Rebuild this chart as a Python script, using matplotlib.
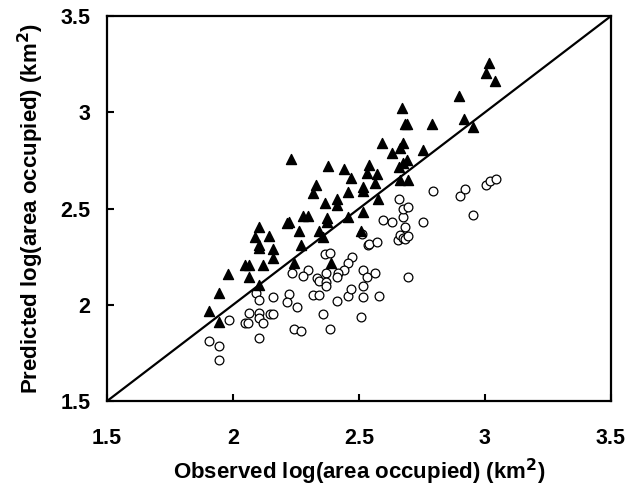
import numpy as np
import matplotlib
matplotlib.use("Agg")
import matplotlib.pyplot as plt

plt.rcParams['font.family'] = ['Liberation Sans', 'DejaVu Sans']
plt.rcParams['font.weight'] = 'bold'

# filled triangles
tri_obs = [1.905, 1.944, 1.944, 1.980, 2.048, 2.063, 2.119, 2.063, 2.103, 2.103,
           2.087, 2.143, 2.103, 2.103, 2.159, 2.159, 2.214, 2.222, 2.230, 2.242,
           2.262, 2.270, 2.278, 2.298, 2.317, 2.329, 2.341, 2.357, 2.365, 2.373,
           2.373, 2.377, 2.389, 2.413, 2.413, 2.440, 2.456, 2.456, 2.468, 2.508,
           2.516, 2.516, 2.516, 2.532, 2.540, 2.563, 2.571, 2.575, 2.591, 2.631,
           2.659, 2.663, 2.663, 2.671, 2.675, 2.675, 2.683, 2.690, 2.690, 2.694,
           2.754, 2.790, 2.897, 2.917, 2.952, 3.004, 3.016, 3.040]
tri_pred = [1.968, 2.061, 1.910, 2.160, 2.206, 2.206, 2.206, 2.144, 2.103, 2.404,
            2.352, 2.357, 2.310, 2.295, 2.290, 2.243, 2.425, 2.430, 2.757, 2.217,
            2.383, 2.310, 2.461, 2.461, 2.581, 2.622, 2.383, 2.352, 2.529, 2.451,
            2.430, 2.721, 2.217, 2.549, 2.518, 2.705, 2.586, 2.456, 2.658, 2.383,
            2.612, 2.591, 2.482, 2.684, 2.726, 2.632, 2.679, 2.549, 2.840, 2.788,
            2.716, 2.814, 2.648, 3.022, 2.840, 2.736, 2.939, 2.939, 2.752, 2.648,
            2.804, 2.939, 3.084, 2.965, 2.923, 3.204, 3.256, 3.162]

# open circles
circ_obs = [1.905, 1.944, 1.944, 1.984, 2.048, 2.060, 2.091, 2.103, 2.063, 2.103,
            2.147, 2.159, 2.103, 2.119, 2.103, 2.159, 2.222, 2.214, 2.254, 2.242,
            2.270, 2.317, 2.341, 2.357, 2.385, 2.413, 2.456, 2.468, 2.508, 2.516,
            2.516, 2.365, 2.385, 2.472, 2.456, 2.440, 2.417, 2.413, 2.369, 2.298,
            2.278, 2.234, 2.333, 2.341, 2.369, 2.369, 2.516, 2.532, 2.536, 2.512,
            2.563, 2.579, 2.694, 2.540, 2.571, 2.655, 2.663, 2.675, 2.683, 2.694,
            2.683, 2.595, 2.631, 2.754, 2.675, 2.675, 2.694, 2.659, 2.794, 2.901,
            2.921, 3.004, 3.020, 3.044, 2.952]
circ_pred = [1.812, 1.786, 1.713, 1.921, 1.905, 1.905, 2.061, 2.025, 1.957, 1.957,
             1.952, 1.952, 1.931, 1.905, 1.827, 2.040, 2.056, 2.014, 1.988, 1.874,
             1.864, 2.051, 2.051, 1.952, 1.874, 2.019, 2.045, 2.082, 1.936, 2.097,
             2.040, 2.264, 2.269, 2.248, 2.217, 2.181, 2.165, 2.144, 2.165, 2.181,
             2.149, 2.165, 2.139, 2.123, 2.118, 2.097, 2.181, 2.144, 2.310, 2.368,
             2.165, 2.045, 2.144, 2.316, 2.326, 2.336, 2.362, 2.347, 2.342, 2.357,
             2.404, 2.440, 2.430, 2.430, 2.456, 2.497, 2.508, 2.549, 2.591, 2.565,
             2.601, 2.622, 2.643, 2.653, 2.466]

ticks = [1.5, 2, 2.5, 3, 3.5]
tick_labels = ["1.5", "2", "2.5", "3", "3.5"]

fig = plt.figure(figsize=(6.29, 4.91), dpi=100)
ax = fig.add_axes([0.170, 0.183, 0.801, 0.784])

ax.plot([1.5, 3.5], [1.5, 3.5], color='black', lw=1.6, zorder=1)
ax.scatter(circ_obs, circ_pred, s=40, facecolors='white', edgecolors='black',
           linewidths=0.9, marker='o', zorder=2)
ax.scatter(tri_obs, tri_pred, s=52, color='black', marker='^', zorder=3)

ax.set_xlim(1.5, 3.5)
ax.set_ylim(1.5, 3.5)
ax.set_xticks(ticks)
ax.set_xticklabels(tick_labels)
ax.set_yticks(ticks)
ax.set_yticklabels(tick_labels)
ax.tick_params(direction='in', length=5, width=1.5, labelsize=15.5)
ax.tick_params(axis='x', pad=19)
ax.tick_params(axis='y', pad=12)
for sp in ax.spines.values():
    sp.set_linewidth(1.6)

ax.set_xlabel("Observed log(area occupied) (km$^\\mathbf{2}$)", fontsize=16,
              fontweight='bold', labelpad=6)
ax.set_ylabel("Predicted log(area occupied) (km$^\\mathbf{2}$)", fontsize=16,
              fontweight='bold', labelpad=10)

fig.savefig("out.png", dpi=100)
